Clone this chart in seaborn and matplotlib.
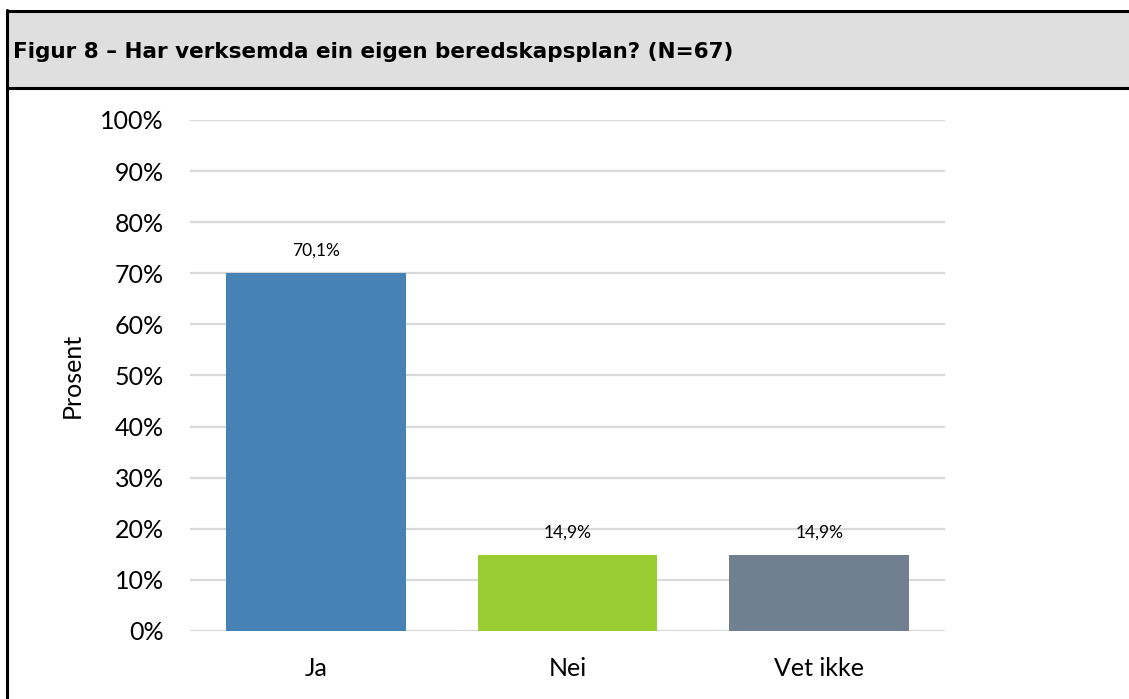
import matplotlib
matplotlib.use('Agg')
import matplotlib.pyplot as plt
import seaborn as sns
import pandas as pd
from matplotlib.patches import Rectangle
from matplotlib.lines import Line2D

# data
kategorier = ['Ja', 'Nei', 'Vet ikke']
prosent = [70.1, 14.9, 14.9]
farger = ['#4682B4', '#9ACD32', '#708090']
tittel = 'Figur 8 – Har verksemda ein eigen beredskapsplan? (N=67)'

df = pd.DataFrame({'kategori': kategorier, 'prosent': prosent})

sns.set_theme(style='white')
plt.rcParams['font.family'] = ['Lato', 'DejaVu Sans']
plt.rcParams['text.color'] = 'black'
plt.rcParams['axes.labelcolor'] = 'black'

fig = plt.figure(figsize=(11.29, 6.99), dpi=100)
ax = fig.add_axes([190 / 1129, 68 / 699, 755 / 1129, 511 / 699])

sns.barplot(data=df, x='kategori', y='prosent', hue='kategori', palette=farger,
            width=0.715, saturation=1, legend=False, linewidth=0, ax=ax)

ax.set_ylim(0, 100)
ax.set_yticks(range(0, 101, 10))
ax.set_yticklabels([f'{v}%' for v in range(0, 101, 10)])
ax.yaxis.grid(True, color='#d9d9d9', linewidth=1.6)
ax.set_axisbelow(True)
for s in ax.spines.values():
    s.set_visible(False)
ax.tick_params(axis='y', length=0, pad=19, labelsize=18, colors='black')
ax.tick_params(axis='x', length=0, pad=19, labelsize=18, colors='black')
ax.set_xlabel('')
ax.set_ylabel('Prosent', fontsize=18, labelpad=12, color='black')

for c in ax.containers:
    ax.bar_label(c, labels=[f'{v:.1f}%'.replace('.', ',') for v in c.datavalues],
                 padding=10, fontsize=12.5, color='black')

# ramme og tittelfelt
fig.patches.append(Rectangle((7 / 1129, 612 / 699), 1.0, 76 / 699, transform=fig.transFigure,
                             facecolor='#dfdfdf', edgecolor='none', zorder=0))
lw = 2.2
fig.lines.append(Line2D([7 / 1129, 1], [688.5 / 699, 688.5 / 699], transform=fig.transFigure,
                        color='black', linewidth=lw))
fig.lines.append(Line2D([7 / 1129, 1], [611.5 / 699, 611.5 / 699], transform=fig.transFigure,
                        color='black', linewidth=lw))
fig.lines.append(Line2D([7 / 1129, 7 / 1129], [0, 689 / 699], transform=fig.transFigure,
                        color='black', linewidth=lw))
fig.text(13 / 1129, 647 / 699, tittel, fontsize=15.5, fontweight='bold',
         family='DejaVu Sans', va='center', ha='left', color='black')

fig.savefig('out.png', dpi=100)
